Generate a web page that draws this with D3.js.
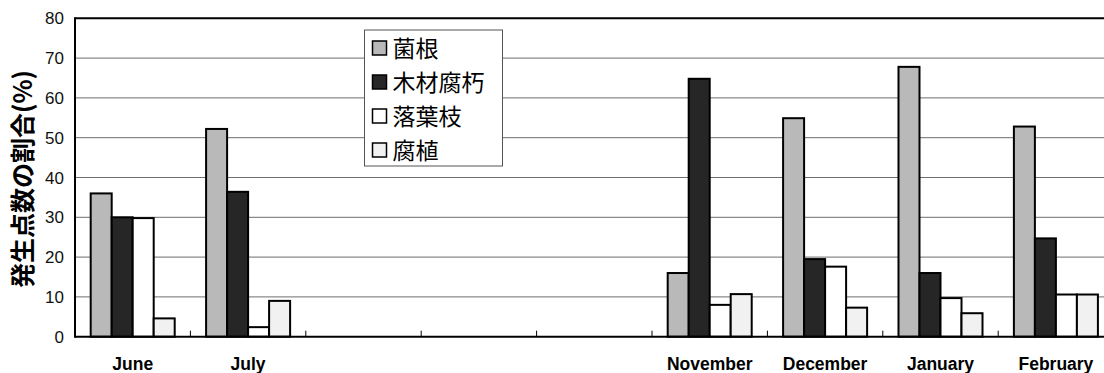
<!DOCTYPE html>
<html><head><meta charset="utf-8">
<script src="https://cdn.jsdelivr.net/npm/d3@7"></script>
<style>body{margin:0;background:#fff}svg{display:block}</style>
</head><body>
<svg id="c" width="1104" height="373"></svg>
<script>
const months = ["June","July","August","September","October","November","December","January","February"];
const monthLabels = ["June","July","","","","November","December","January","February"];
const series = ["菌根","木材腐朽","落葉枝","腐植"];
const mycorrhizal = [36, 52.2, null, null, null, 16, 54.9, 67.8, 52.8];
const woodDecay   = [30, 36.4, null, null, null, 64.8, 19.5, 16, 24.7];
const litter      = [29.8, 2.4, null, null, null, 8, 17.6, 9.7, 10.6];
const humus       = [4.6, 9, null, null, null, 10.7, 7.3, 5.9, 10.6];
const yTicks = [0,10,20,30,40,50,60,70,80];
const yTitle = "発生点数の割合(%)";

const seriesValues = [mycorrhizal, woodDecay, litter, humus];
const fills = ["#b9b9b9", "#262626", "#ffffff", "#f1f1f1"];

const svg = d3.select("#c");
const L = 75, T = 18.3, B = 336.7, R = 1113.6;

const x = d3.scaleBand().domain(months).range([L, R]).paddingInner(0.272).paddingOuter(0.136);
const x1 = d3.scaleBand().domain(series).range([0, x.bandwidth()]);
const y = d3.scaleLinear().domain([0, 80]).range([B, T]);
const step = x.step();

// gridlines
svg.append("g").selectAll("line").data(yTicks.filter(d => d > 0 && d < 80)).join("line")
  .attr("x1", L).attr("x2", 1104).attr("y1", d => y(d)).attr("y2", d => y(d))
  .attr("stroke", "#6e6e6e").attr("stroke-width", 1);

// bars
const rows = [];
months.forEach((m, i) => series.forEach((s, j) => {
  const v = seriesValues[j][i];
  if (v != null) rows.push({m, s, v, j});
}));
svg.append("g").selectAll("rect").data(rows).join("rect")
  .attr("x", d => x(d.m) + x1(d.s))
  .attr("y", d => y(d.v))
  .attr("width", x1.bandwidth())
  .attr("height", d => y(0) - y(d.v))
  .attr("fill", d => fills[d.j])
  .attr("stroke", "#000").attr("stroke-width", 2);

// frame lines
svg.append("line").attr("x1", L).attr("x2", 1104).attr("y1", T).attr("y2", T).attr("stroke", "#000").attr("stroke-width", 2);
svg.append("line").attr("x1", L).attr("x2", L).attr("y1", T - 1).attr("y2", B + 1).attr("stroke", "#000").attr("stroke-width", 2);

// x axis
const xAxis = svg.append("g").attr("transform", `translate(0,${B})`);
xAxis.append("line").attr("x1", L).attr("x2", 1104).attr("stroke", "#000").attr("stroke-width", 2);
const bounds = months.map(m => x(m) - step * 0.136).slice(1);
xAxis.selectAll("line.tk").data(bounds).join("line").attr("class", "tk")
  .attr("x1", d => d).attr("x2", d => d).attr("y1", 0).attr("y2", -6)
  .attr("stroke", "#000").attr("stroke-width", 1);
xAxis.selectAll("text").data(months).join("text")
  .attr("x", d => x(d) + x.bandwidth() / 2).attr("y", 33)
  .attr("text-anchor", "middle")
  .attr("font-family", "Liberation Sans, Arial, sans-serif")
  .attr("font-weight", "bold").attr("font-size", 17.5)
  .text((d, i) => monthLabels[i]);

// y axis labels
svg.append("g").selectAll("text").data(yTicks).join("text")
  .attr("x", 64).attr("y", d => y(d) + 6)
  .attr("text-anchor", "end")
  .attr("font-family", "Liberation Sans, Arial, sans-serif")
  .attr("font-size", 17).attr("fill", "#111")
  .text(d => d);

// y title
svg.append("text")
  .attr("transform", `translate(32,179) rotate(-90)`)
  .attr("text-anchor", "middle")
  .attr("font-family", "Noto Sans CJK JP, sans-serif")
  .attr("font-weight", "bold").attr("font-size", 25)
  .text(yTitle);

// legend
const lg = svg.append("g").attr("transform", "translate(364.5,30)");
lg.append("rect").attr("width", 138).attr("height", 136).attr("fill", "#fff").attr("stroke", "#555").attr("stroke-width", 1);
const items = lg.selectAll("g").data(series).join("g")
  .attr("transform", (d, i) => `translate(0,${18 + i * 34})`);
items.append("rect").attr("x", 8).attr("y", -7).attr("width", 14).attr("height", 14)
  .attr("fill", (d, i) => fills[i]).attr("stroke", "#000").attr("stroke-width", 1.5);
items.append("text").attr("x", 28).attr("y", 8.5)
  .attr("font-family", "Noto Sans CJK JP, sans-serif").attr("font-size", 23)
  .text(d => d);
</script>
</body></html>
